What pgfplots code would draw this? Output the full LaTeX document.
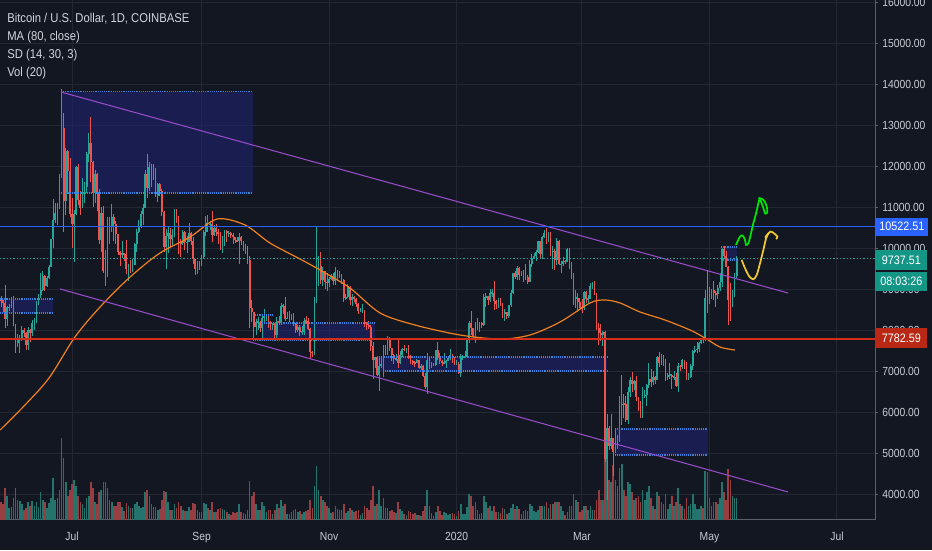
\documentclass[border=0pt]{standalone}
\usepackage{fontspec}
\setmainfont{Liberation Sans}[FakeStretch=0.88]
\usepackage{pgfplots}
\usepackage{pgfplotstable}
\pgfplotsset{compat=1.18}
\definecolor{bg}{RGB}{19,23,34}
\definecolor{gridC}{RGB}{36,40,52}
\definecolor{axisC}{RGB}{90,94,106}
\definecolor{tickC}{RGB}{200,203,211}
\definecolor{legC}{RGB}{209,212,220}
\definecolor{upC}{RGB}{38,166,154}
\definecolor{dnC}{RGB}{239,83,80}
\definecolor{volUp}{RGB}{36,115,108}
\definecolor{volDn}{RGB}{150,62,66}
\definecolor{boxC}{RGB}{30,34,110}
\definecolor{dotC}{RGB}{60,130,220}
\definecolor{chanC}{RGB}{150,75,200}
\definecolor{maC}{RGB}{240,128,30}
\definecolor{blueL}{RGB}{41,98,255}
\definecolor{redL}{RGB}{210,45,25}
\definecolor{redBox}{RGB}{185,40,20}
\definecolor{tealBox}{RGB}{20,150,135}
\definecolor{grnA}{RGB}{0,230,0}
\definecolor{yelA}{RGB}{240,200,50}

\pgfplotstableread{
d o h l c vol
-34 8740 8820 8560 8720 18
-33 8720 8740 8450 8660 16
-32 8660 9090 8050 8270 32
-31 8270 8580 8100 8550 24
-30 8550 8640 8460 8560 12
-29 8560 8800 8540 8740 13
-28 8740 8820 8100 8120 22
-27 8120 8150 7450 7680 32
-26 7680 7900 7580 7790 20
-25 7790 7870 7450 7800 19
-24 7800 8100 7740 8000 16
-23 8000 8060 7820 7930 10
-22 7930 7950 7520 7630 12
-21 7630 8080 7520 8010 18
-20 8010 8030 7700 7920 14
-19 7920 8250 7850 8170 19
-18 8170 8300 8000 8230 14
-17 8230 8700 8170 8690 18
-16 8690 8880 8610 8850 13
-15 8850 9390 8790 8980 28
-14 8980 9440 8960 9320 20
-13 9320 9350 8940 9080 18
-12 9080 9310 9040 9280 12
-11 9280 9580 9250 9530 17
-10 9530 10230 9530 10210 22
-9 10210 11200 10000 10680 42
-8 10680 11100 10600 10850 20
-7 10850 11100 10550 11030 22
-6 11030 11800 10950 11770 30
-5 11770 13880 11700 12930 82
-4 12930 13300 10400 11150 62
-3 11150 12450 10800 12360 38
-2 12360 12400 11350 11880 24
-1 11880 12200 10760 10820 30
0 10820 11220 10000 10590 36
1 10590 10930 9650 10820 40
2 10820 12000 10800 11980 34
3 11980 12050 11050 11160 24
4 11160 11400 10800 10980 18
5 10980 11700 10980 11240 16
6 11240 11600 11100 11480 12
7 11480 12350 11350 12300 22
8 12300 12800 12100 12570 24
9 12570 13200 11600 12100 38
10 12100 12110 11000 11340 32
11 11340 11900 11100 11810 18
12 11810 11840 10900 11370 16
13 11370 11450 10100 10200 28
14 10200 11000 9900 10850 30
15 10850 11020 9380 9430 38
16 9430 9950 9070 9690 38
17 9690 10750 9300 10640 32
18 10640 10750 10100 10530 20
19 10530 11080 10380 10760 18
20 10760 10840 10180 10590 14
21 10590 10650 10100 10330 14
22 10330 10330 9820 9900 18
23 9900 9920 9550 9830 18
24 9830 10180 9750 9880 13
25 9880 9890 9680 9850 9
26 9850 10200 9360 9480 17
27 9480 9600 9200 9530 14
28 9530 9700 9380 9510 12
29 9510 9720 9420 9590 12
30 9590 10120 9580 10090 16
31 10090 10470 9900 10400 18
32 10400 10680 10360 10530 14
33 10530 10910 10500 10820 12
34 10820 11070 10550 10980 13
35 10980 11900 10980 11800 28
36 11800 12300 11230 11470 30
37 11470 12100 11400 11980 24
38 11980 12050 11500 11960 16
39 11960 12050 11650 11860 13
40 11860 11950 11250 11280 13
41 11280 11590 11120 11560 10
42 11560 11580 11260 11390 11
43 11390 11450 10780 10870 20
44 10870 10900 9900 10030 29
45 10030 10460 9500 10300 28
46 10300 10530 9870 10360 18
47 10360 10480 10000 10220 10
48 10220 10470 10050 10320 10
49 10320 10950 10260 10920 16
50 10920 10950 10600 10760 12
51 10760 10790 9850 10130 18
52 10130 10230 9780 10120 14
53 10120 10440 10070 10400 10
54 10400 10420 9950 10140 9
55 10140 10300 9890 10140 9
56 10140 10620 10140 10370 13
57 10370 10390 10070 10180 10
58 10180 10280 9620 9720 17
59 9720 9720 9330 9490 16
60 9490 9680 9360 9590 10
61 9590 9680 9460 9600 8
62 9600 9840 9570 9770 8
63 9770 10440 9760 10390 17
64 10390 10790 10290 10620 16
65 10620 10800 10400 10580 12
66 10580 10630 10440 10580 10
67 10580 10910 10150 10320 18
68 10320 10550 10300 10490 8
69 10490 10580 10300 10400 8
70 10400 10470 10100 10330 11
71 10330 10380 9950 10110 12
72 10110 10300 9870 10150 11
73 10150 10450 10060 10410 10
74 10410 10440 10150 10360 8
75 10360 10420 10280 10360 6
76 10360 10380 10240 10310 5
77 10310 10370 10090 10260 8
78 10260 10270 10130 10190 7
79 10190 10280 10150 10160 8
80 10160 10360 9600 10280 16
81 10280 10300 10070 10170 8
82 10170 10180 9920 9990 7
83 9990 10090 9850 10030 6
84 10030 10050 9620 9700 10
85 9700 9800 8050 8530 39
86 8530 8720 8200 8430 24
87 8430 8450 7750 8070 28
88 8070 8270 7870 8190 16
89 8190 8320 8000 8200 10
90 8200 8220 7940 8050 10
91 8050 8340 7720 8300 18
92 8300 8520 8200 8330 14
93 8330 8390 8210 8390 8
94 8390 8400 8060 8230 10
95 8230 8230 8000 8150 10
96 8150 8180 8010 8150 6
97 8150 8170 7780 7870 10
98 7870 8320 7770 8210 16
99 8210 8340 8120 8180 12
100 8180 8650 8120 8590 20
101 8590 8640 8400 8590 14
102 8590 8800 8220 8270 16
103 8270 8430 8260 8300 6
104 8300 8470 8200 8280 6
105 8280 8390 8240 8370 8
106 8370 8420 8100 8160 10
107 8160 8170 7930 8000 11
108 8000 8120 7950 8080 8
109 8080 8120 7850 7960 9
110 7960 8100 7870 7960 6
111 7960 8300 7880 8230 8
112 8230 8330 8150 8220 9
113 8220 8300 7990 8030 10
114 8030 8050 7300 7470 20
115 7470 7500 7350 7440 12
116 7440 8800 7400 8660 34
117 8660 10540 8660 9250 54
118 9250 9800 9070 9550 30
119 9550 9900 9130 9220 24
120 9220 9540 9080 9430 20
121 9430 9440 8990 9170 18
122 9170 9400 8950 9150 14
123 9150 9290 9050 9250 12
124 9250 9370 9210 9310 7
125 9310 9380 9100 9200 8
126 9200 9530 9100 9410 14
127 9410 9460 9200 9310 11
128 9310 9450 9270 9340 10
129 9340 9370 9110 9210 10
130 9210 9240 8680 8770 16
131 8770 8870 8740 8810 7
132 8810 9130 8770 9040 9
133 9040 9080 8620 8730 12
134 8730 8880 8580 8810 10
135 8810 8830 8690 8760 8
136 8760 8780 8570 8640 9
137 8640 8650 8400 8470 10
138 8470 8530 8440 8490 5
139 8490 8640 8410 8500 7
140 8500 8500 8080 8170 14
141 8170 8200 8000 8120 12
142 8120 8210 8020 8080 10
143 8080 8110 7500 7610 20
144 7610 7710 6800 7280 34
145 7280 7350 7080 7330 14
146 7330 7340 6880 6910 16
147 6910 7350 6520 7130 30
148 7130 7340 7070 7160 14
149 7160 7640 6860 7520 22
150 7520 7640 7380 7430 12
151 7430 7860 7400 7750 12
152 7750 7820 7480 7560 9
153 7560 7560 7250 7400 10
154 7400 7420 7160 7300 8
155 7300 7420 7250 7300 7
156 7300 7750 7080 7200 18
157 7200 7480 7170 7400 11
158 7400 7560 7350 7540 9
159 7540 7630 7500 7510 6
160 7510 7570 7440 7530 5
161 7530 7640 7300 7340 9
162 7340 7400 7160 7230 8
163 7230 7270 7150 7210 6
164 7210 7250 7090 7200 7
165 7200 7300 7200 7260 5
166 7260 7280 7040 7070 5
167 7070 7180 7030 7120 4
168 7120 7140 6850 6880 9
169 6880 6940 6560 6610 14
170 6610 7440 6430 7280 30
171 7280 7370 7040 7150 14
172 7150 7220 7080 7190 7
173 7190 7190 7120 7140 4
174 7140 7520 7130 7520 8
175 7520 7700 7260 7320 14
176 7320 7440 7160 7250 9
177 7250 7270 7130 7200 5
178 7200 7440 7160 7200 8
179 7200 7280 7070 7250 7
180 7250 7360 7240 7310 5
181 7310 7530 7280 7390 6
182 7390 7410 7200 7220 7
183 7220 7330 7150 7170 6
184 7170 7260 7160 7180 4
185 7180 7210 6920 6960 9
186 6960 7410 6860 7340 16
187 7340 7400 7280 7350 6
188 7350 7500 7310 7350 6
189 7350 7790 7350 7760 13
190 7760 8210 7680 8160 26
191 8160 8460 7870 8040 24
192 8040 8050 7760 7820 14
193 7820 8200 7680 8190 18
194 8190 8290 8000 8020 10
195 8020 8190 7960 8180 6
196 8180 8190 8060 8110 7
197 8110 8880 8100 8810 24
198 8810 8900 8560 8820 18
199 8820 8820 8600 8720 12
200 8720 9000 8680 8900 14
201 8900 9000 8800 8910 9
202 8910 9200 8480 8700 14
203 8700 8730 8520 8630 8
204 8630 8770 8530 8730 8
205 8730 8790 8580 8660 7
206 8660 8670 8300 8390 12
207 8390 8520 8230 8440 11
208 8440 8450 8280 8340 6
209 8340 8600 8290 8600 7
210 8600 8980 8570 8900 12
211 8900 9400 8880 9380 16
212 9380 9430 9240 9300 11
213 9300 9560 9220 9510 14
214 9510 9530 9230 9350 11
215 9350 9440 9310 9380 6
216 9380 9470 9160 9340 9
217 9340 9620 9230 9290 10
218 9290 9340 9110 9180 9
219 9180 9700 9160 9620 16
220 9620 9850 9540 9750 14
221 9750 9880 9720 9800 9
222 9800 9950 9680 9900 8
223 9900 10160 9880 10160 10
224 10160 10180 9720 9860 14
225 9860 10290 9720 10270 14
226 10270 10450 10250 10360 14
227 10360 10500 10090 10240 18
228 10240 10400 10140 10370 12
229 10370 10390 9810 9910 16
230 9910 10050 9480 9930 16
231 9930 9970 9460 9700 18
232 9700 10250 9590 10180 18
233 10180 10200 9590 9600 18
234 9600 9680 9400 9610 14
235 9610 9770 9570 9690 9
236 9690 9700 9600 9670 5
237 9670 9990 9660 9970 8
238 9970 9990 9500 9670 14
239 9670 9670 9250 9320 14
240 9320 9380 8600 8790 26
241 8790 8980 8530 8790 20
242 8790 8900 8450 8680 18
243 8680 8790 8530 8540 8
244 8540 8750 8410 8530 10
245 8530 8960 8500 8920 14
246 8920 8960 8650 8760 14
247 8760 8850 8670 8760 10
248 8760 9150 8760 9070 14
249 9070 9170 9010 9150 10
250 9150 9200 8850 8900 10
251 8900 8900 8000 8040 20
252 8040 8180 7630 7930 30
253 7930 8150 7730 7890 20
254 7890 7980 7600 7940 20
255 7940 7970 4780 4860 88
256 4860 5950 3860 5620 84
257 5620 5660 5080 5170 40
258 5170 5950 5100 5360 38
259 5360 5370 4450 5020 55
260 5020 5550 4990 5370 40
261 5370 5440 5100 5400 34
262 5400 6380 5260 6170 52
263 6170 6900 5680 6200 56
264 6200 6450 5860 6190 30
265 6190 6400 5760 5810 24
266 5810 6600 5700 6490 38
267 6490 6850 6360 6770 36
268 6770 6980 6480 6690 28
269 6690 6790 6530 6760 20
270 6760 6870 6260 6370 22
271 6370 6370 6030 6250 24
272 6250 6270 5860 5880 18
273 5880 6600 5860 6400 30
274 6400 6530 6330 6420 20
275 6420 6680 6150 6650 28
276 6650 7200 6580 6800 34
277 6800 7050 6620 6740 22
278 6740 6990 6670 6860 14
279 6860 6880 6680 6780 11
280 6780 7370 6780 7340 28
281 7340 7470 7100 7200 24
282 7200 7420 7150 7370 18
283 7370 7380 7110 7300 16
284 7300 7300 6760 6870 26
285 6870 6950 6790 6890 11
286 6890 7200 6810 6910 16
287 6910 6920 6560 6860 24
288 6860 6990 6790 6860 14
289 6860 6940 6620 6630 18
290 6630 7200 6480 7120 32
291 7120 7150 7000 7100 16
292 7100 7300 7040 7260 14
293 7260 7260 7040 7130 11
294 7130 7220 6780 6850 22
295 6850 6950 6790 6860 14
296 6860 7160 6840 7130 16
297 7130 7520 7030 7490 26
298 7490 7600 7440 7510 16
299 7510 7700 7450 7540 11
300 7540 7710 7460 7690 11
301 7690 7800 7650 7780 14
302 7780 7800 7680 7770 12
303 7770 8980 7740 8790 49
304 8790 9470 8420 8630 48
305 8630 9060 8630 8830 22
306 8830 9010 8760 8970 14
307 8970 9190 8720 8900 18
308 8900 8950 8550 8880 18
309 8880 9100 8760 9030 16
310 9030 9400 8960 9160 22
311 9160 9990 9040 9980 38
312 9980 10050 9720 9810 28
313 9810 9920 9530 9540 20
314 9540 9570 8110 8730 51
315 8730 9150 8210 8570 40
316 8570 8980 8550 8820 24
317 8820 9380 8800 9310 22
318 9310 9800 9260 9737.51 22
}\candles

\pgfplotsset{
  candle/.style n args={2}{draw=none, mark=none, forget plot,
    error bars/.cd, y dir=both, y explicit, error mark=none,
    error mark options={draw=none, fill=none},
    error bar style={draw=#1, line width=#2, solid}},
}

\begin{document}
\begin{tikzpicture}
\useasboundingbox (0,0) rectangle (699pt,412.5pt);
\fill[bg] (0,0) rectangle (699pt,412.5pt);
\begin{axis}[
  at={(0pt,22.5pt)}, anchor=south west,
  scale only axis, width=656.25pt, height=390pt,
  xmin=-34.45, xmax=384.2, ymin=3366, ymax=16049,
  axis x line*=bottom, axis y line*=right,
  axis line style={draw=axisC, line width=0.75pt, -},
  xtick={0,62,123,184,244,305,366},
  xticklabels={Jul,Sep,Nov,2020,Mar,May,Jul},
  ytick={4000,5000,...,16000},
  scaled y ticks=false,
  grid=major,
  major grid style={draw=gridC, line width=0.75pt},
  tick align=outside, major tick length=2.5pt,
  xtick style={draw=none},
  ytick style={draw=axisC, line width=0.6pt},
  ticklabel style={font=\fontsize{8.8}{10}\selectfont, text=tickC},
  xticklabel style={anchor=base, yshift=-13pt},
  yticklabel style={anchor=west, inner sep=0pt, xshift=2.8pt,
     /pgf/number format/fixed, /pgf/number format/fixed zerofill,
     /pgf/number format/precision=2, /pgf/number format/1000 sep={}},
  /pgf/number format/assume math mode=true,
  clip mode=individual,
]
% price range boxes (fill)
\addplot[fill=boxC, fill opacity=0.6, draw=none, forget plot] coordinates {(-5.3,13816) (86.6,13816) (86.6,11337) (-5.3,11337)};
\addplot[fill=boxC, fill opacity=0.6, draw=none, forget plot] coordinates {(-34.45,8750) (-9.1,8750) (-9.1,8409) (-34.45,8409)};
\addplot[fill=boxC, fill opacity=0.6, draw=none, forget plot] coordinates {(90.9,8163) (145,8163) (145,7756) (90.9,7756)};
\addplot[fill=boxC, fill opacity=0.6, draw=none, forget plot] coordinates {(145.9,7341) (256,7341) (256,7000) (145.9,7000)};
\addplot[fill=boxC, fill opacity=0.6, draw=none, forget plot] coordinates {(259.8,5585) (304.3,5585) (304.3,4951) (259.8,4951)};
\addplot[fill=boxC, fill opacity=0.6, draw=none, forget plot] coordinates {(310.5,10024) (318.2,10024) (318.2,9707) (310.5,9707)};
% volume
\addplot[ycomb, draw=volUp, line width=1.25pt, mark=none, forget plot,
  restrict expr to domain={\thisrow{c}-\thisrow{o}}{0:100000}]
  table[x=d, y expr={3366+24.4*\thisrow{vol}}] {\candles};
\addplot[ycomb, draw=volDn, line width=1.25pt, mark=none, forget plot,
  restrict expr to domain={\thisrow{c}-\thisrow{o}}{-100000:-0.001}]
  table[x=d, y expr={3366+24.4*\thisrow{vol}}] {\candles};
% candles: wicks
\addplot[restrict expr to domain={\thisrow{c}-\thisrow{o}}{0:100000}, candle={upC}{0.6pt}]
  table[x=d, y expr={0.5*(\thisrow{h}+\thisrow{l})}, y error expr={0.5*(\thisrow{h}-\thisrow{l})}] {\candles};
\addplot[restrict expr to domain={\thisrow{c}-\thisrow{o}}{-100000:-0.001}, candle={dnC}{0.6pt}]
  table[x=d, y expr={0.5*(\thisrow{h}+\thisrow{l})}, y error expr={0.5*(\thisrow{h}-\thisrow{l})}] {\candles};
% candles: bodies
\addplot[restrict expr to domain={\thisrow{c}-\thisrow{o}}{0:100000}, candle={upC}{1.3pt}]
  table[x=d, y expr={0.5*(\thisrow{o}+\thisrow{c})}, y error expr={max(0.5*abs(\thisrow{c}-\thisrow{o}),15)}] {\candles};
\addplot[restrict expr to domain={\thisrow{c}-\thisrow{o}}{-100000:-0.001}, candle={dnC}{1.3pt}]
  table[x=d, y expr={0.5*(\thisrow{o}+\thisrow{c})}, y error expr={max(0.5*abs(\thisrow{c}-\thisrow{o}),15)}] {\candles};
% box dotted borders
\pgfplotsset{dotln/.style={draw=dotC, line width=1.4pt, dash pattern=on 0.7pt off 0.7pt, forget plot}}
\addplot[dotln] coordinates {(-5.3,13816) (86.6,13816)};
\addplot[dotln] coordinates {(-5.3,11337) (86.6,11337)};
\addplot[dotln] coordinates {(-34.45,8750) (-9.1,8750)};
\addplot[dotln] coordinates {(-34.45,8409) (-9.1,8409)};
\addplot[dotln] coordinates {(90.9,8163) (145,8163)};
\addplot[dotln] coordinates {(86.6,7756) (142.6,7756)};
\addplot[dotln] coordinates {(86.6,8366) (95.7,8366)};
\addplot[dotln] coordinates {(145.9,7341) (256,7341)};
\addplot[dotln] coordinates {(148.8,7000) (256,7000)};
\addplot[dotln] coordinates {(259.8,5585) (304.3,5585)};
\addplot[dotln] coordinates {(259.8,4951) (304.3,4951)};
\addplot[dotln] coordinates {(310.5,10024) (318.2,10024)};
\addplot[dotln] coordinates {(310.5,9707) (318.2,9707)};
% moving average
\addplot[draw=maC, line width=0.9pt, smooth, forget plot] coordinates {
(-34.4,5561) (-22.5,6171) (-11.0,6829) (1.4,7829) (13.4,8561) (27.8,9293)
(42.1,9878) (56.5,10268) (69.4,10707) (82.8,10561) (94.7,10122) (109.1,9732)
(118.7,9463) (133.0,9024) (147.4,8415) (164.1,8122) (185.6,7878) (204.8,7780)
(219.1,7878) (233.5,8195) (247.8,8659) (255.0,8732) (262.2,8659) (271.8,8439)
(283.7,8244) (295.7,8000) (302.9,7805) (310.0,7585) (317.2,7512)};
% channel
\addplot[draw=chanC, line width=0.8pt, forget plot] coordinates {(-5.3,13805) (342.6,8902)};
\addplot[draw=chanC, line width=0.8pt, forget plot] coordinates {(-5.7,9000) (342.6,4049)};
% horizontal levels
\addplot[draw=blueL, line width=1.1pt, forget plot] coordinates {(-34.45,10522.51) (384.2,10522.51)};
\addplot[draw=redL, line width=1.5pt, forget plot] coordinates {(-34.45,7782.59) (384.2,7782.59)};
\addplot[draw=upC, line width=0.75pt, dash pattern=on 1pt off 1.5pt, forget plot] coordinates {(-34.45,9737.51) (384.2,9737.51)};
% hand-drawn arrows
\addplot[draw=grnA, line width=1.3pt, smooth, tension=0.5, forget plot] coordinates {
(317.7,10076) (319.6,10278) (320.9,10303) (322.0,10198) (322.5,10076) (323.6,10117)
(324.7,10320) (326.0,10605) (327.3,10849) (328.4,11093) (329.2,11215) (331.1,11157)
(332.4,11010) (332.7,10873) (331.7,10839) (330.8,10971) (329.8,11117) (328.6,11230)};
\addplot[draw=yelA, line width=1.3pt, smooth, tension=0.5, forget plot] coordinates {
(320.4,9710) (322.0,9507) (324.1,9302) (326.0,9239) (327.6,9344) (329.2,9629)
(330.8,9954) (332.1,10239) (333.5,10376)};
\addplot[draw=yelA, line width=1.3pt, smooth, tension=0.5, forget plot] coordinates {
(331.6,10254) (334.3,10400) (337.5,10278) (336.8,10222)};
% price tags
\node[fill=blueL, text=white, anchor=west, minimum width=39.75pt, minimum height=13.5pt, inner sep=0pt, font=\fontsize{9.2}{10}\selectfont] at (axis cs:384.2,10522.51) {10522.51};
\node[fill=tealBox, text=white, anchor=west, minimum width=39pt, minimum height=14.5pt, inner sep=0pt, font=\fontsize{9.2}{10}\selectfont] at (axis cs:384.2,9710) {9737.51};
\node[fill=tealBox, text=white, anchor=west, minimum width=39pt, minimum height=14pt, inner sep=0pt, font=\fontsize{9.2}{10}\selectfont] at (axis cs:384.2,9185) {08:03:26};
\node[fill=redBox, text=white, anchor=west, minimum width=39pt, minimum height=15pt, inner sep=0pt, font=\fontsize{9.2}{10}\selectfont] at (axis cs:384.2,7800) {7782.59};
\end{axis}
\begin{scope}[every node/.style={anchor=base west, inner sep=0pt, text=legC, font=\fontsize{9.6}{11}\selectfont}]
\node at (5.25pt,395.5pt) {Bitcoin / U.S. Dollar, 1D, COINBASE};
\node at (5.25pt,382pt) {MA (80, close)};
\node at (5.25pt,368.5pt) {SD (14, 30, 3)};
\node at (5.25pt,355pt) {Vol (20)};
\end{scope}
\end{tikzpicture}
\end{document}
